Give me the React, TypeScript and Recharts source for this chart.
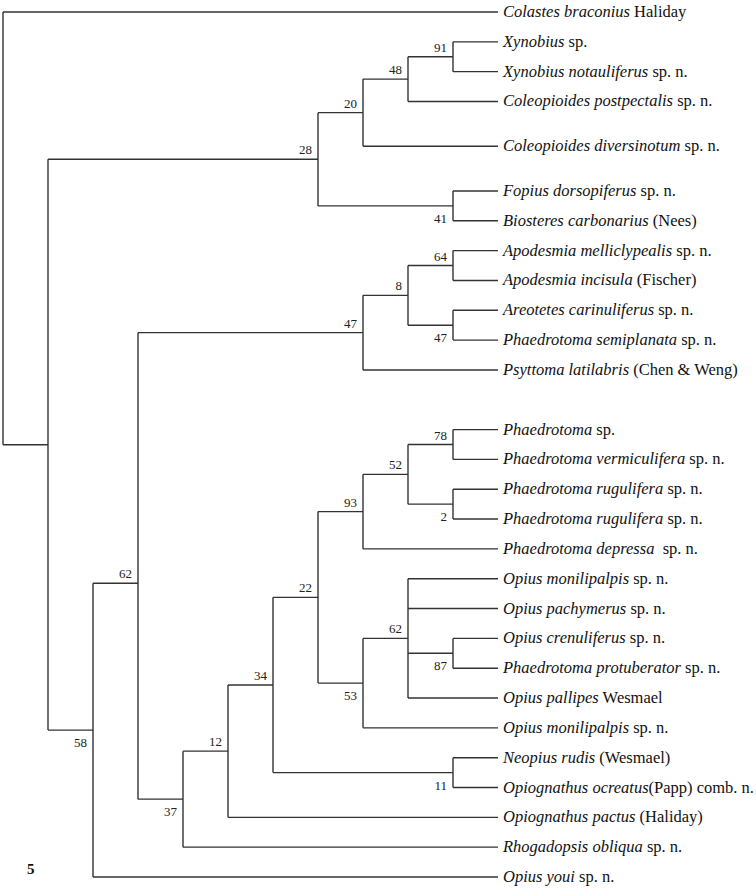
import { ScatterChart, Scatter, XAxis, YAxis, ReferenceLine } from "recharts";

// leaves, top to bottom
const leafIds = [
  "colastes", "xynSp", "xynNot", "colPost", "colDiv", "fopius", "biosteres",
  "apoMel", "apoInc", "areo", "phSemi", "psyttoma",
  "phSp", "phVerm", "phRug1", "phRug2", "phDep",
  "opMon1", "opPach", "opCren", "phProt", "opPall", "opMon2",
  "neopius", "opiOcr", "opiPact", "rhog", "opYoui",
];
const leafItalic = [
  "Colastes braconius", "Xynobius", "Xynobius notauliferus", "Coleopioides postpectalis",
  "Coleopioides diversinotum", "Fopius dorsopiferus", "Biosteres carbonarius",
  "Apodesmia melliclypealis", "Apodesmia incisula", "Areotetes carinuliferus",
  "Phaedrotoma semiplanata", "Psyttoma latilabris",
  "Phaedrotoma", "Phaedrotoma vermiculifera", "Phaedrotoma rugulifera",
  "Phaedrotoma rugulifera", "Phaedrotoma depressa",
  "Opius monilipalpis", "Opius pachymerus", "Opius crenuliferus",
  "Phaedrotoma protuberator", "Opius pallipes", "Opius monilipalpis",
  "Neopius rudis", "Opiognathus ocreatus", "Opiognathus pactus",
  "Rhogadopsis obliqua", "Opius youi",
];
const leafAuthor = [
  " Haliday", " sp.", " sp. n.", " sp. n.", " sp. n.", " sp. n.", " (Nees)",
  " sp. n.", " (Fischer)", " sp. n.", " sp. n.", " (Chen & Weng)",
  " sp.", " sp. n.", " sp. n.", " sp. n.", "  sp. n.",
  " sp. n.", " sp. n.", " sp. n.", " sp. n.", " Wesmael", " sp. n.",
  " (Wesmael)", "(Papp) comb. n.", " (Haliday)", " sp. n.", " sp. n.",
];
const leafRows = [
  0, 1, 2, 3, 4.5, 6, 7,
  8, 9, 10, 11, 12,
  14, 15, 16, 17, 18,
  19, 20, 21, 22, 23, 24,
  25, 26, 27, 28, 29,
];
const leafDepth = 11;

// internal nodes
const nodeIds = [
  "root", "n1", "n28", "n20", "n48", "n91", "n41",
  "n58", "n62a", "n47a", "n8", "n64", "n47b",
  "n37", "n12", "n34", "n22", "n93", "n52", "n78", "n2",
  "n53", "n62b", "n87", "n11",
];
const nodeDepth = [0, 1, 7, 8, 9, 10, 10, 2, 3, 8, 9, 10, 10, 4, 5, 6, 7, 8, 9, 10, 10, 8, 9, 10, 10];
const nodeChildren = [
  ["colastes", "n1"],
  ["n28", "n58"],
  ["n20", "n41"],
  ["n48", "colDiv"],
  ["n91", "colPost"],
  ["xynSp", "xynNot"],
  ["fopius", "biosteres"],
  ["n62a", "opYoui"],
  ["n47a", "n37"],
  ["n8", "psyttoma"],
  ["n64", "n47b"],
  ["apoMel", "apoInc"],
  ["areo", "phSemi"],
  ["n12", "rhog"],
  ["n34", "opiPact"],
  ["n22", "n11"],
  ["n93", "n53"],
  ["n52", "phDep"],
  ["n78", "n2"],
  ["phSp", "phVerm"],
  ["phRug1", "phRug2"],
  ["n62b", "opMon2"],
  ["opMon1", "opPach", "n87", "opPall"],
  ["opCren", "phProt"],
  ["neopius", "opiOcr"],
];
const nodeSupport = [null, null, 28, 20, 48, 91, 41, 58, 62, 47, 8, 64, 47, 37, 12, 34, 22, 93, 52, 78, 2, 53, 62, 87, 11];
const supportBelow = ["n41", "n47b", "n2", "n87", "n53", "n11", "n58", "n37"];
// node drawn off the midpoint of its children in the original
const nodeRowOverride: Record<string, number> = { n62a: 19.15 };

const serif = "'Liberation Serif', 'Times New Roman', serif";
const ink = "#333";

const rowOf = (id: string): number => {
  const li = leafIds.indexOf(id);
  if (li >= 0) return leafRows[li];
  if (nodeRowOverride[id] !== undefined) return nodeRowOverride[id];
  const ys = nodeChildren[nodeIds.indexOf(id)].map(rowOf);
  return (Math.min(...ys) + Math.max(...ys)) / 2;
};
const depthOf = (id: string): number => {
  const ni = nodeIds.indexOf(id);
  return ni >= 0 ? nodeDepth[ni] : leafDepth;
};

const segments: { x: number; y: number }[][] = [];
nodeIds.forEach((id, i) => {
  const d = nodeDepth[i];
  const ys = nodeChildren[i].map(rowOf);
  segments.push([{ x: d, y: Math.min(...ys) }, { x: d, y: Math.max(...ys) }]);
  nodeChildren[i].forEach((c) => {
    const cy = rowOf(c);
    segments.push([{ x: d, y: cy }, { x: depthOf(c), y: cy }]);
  });
});

const leafData = leafIds.map((id, i) => ({
  x: leafDepth,
  y: leafRows[i],
  italic: leafItalic[i],
  author: leafAuthor[i],
}));

const supportData = nodeIds
  .map((id, i) => ({
    x: nodeDepth[i],
    y: rowOf(id),
    label: nodeSupport[i],
    below: supportBelow.includes(id),
  }))
  .filter((d) => d.label !== null);

const LeafLabel = (props: any) => {
  const { cx, cy, payload } = props;
  return (
    <text
      x={cx + 5}
      y={cy + 5}
      fontFamily={serif}
      fontSize={16.5}
      fill="#111"
      style={{ whiteSpace: "pre" }}
    >
      <tspan fontStyle="italic">{payload.italic}</tspan>
      <tspan>{payload.author}</tspan>
    </text>
  );
};

const SupportLabel = (props: any) => {
  const { cx, cy, payload } = props;
  return (
    <text
      x={cx - 6}
      y={payload.below ? cy + 17 : cy - 5}
      textAnchor="end"
      fontFamily={serif}
      fontSize={13}
      fill="#222"
    >
      {payload.label}
    </text>
  );
};

export default function App() {
  return (
    <div style={{ position: "absolute", left: 0, top: 0, width: 756, height: 888, background: "#fff" }}>
      <ScatterChart
        width={756}
        height={888}
        margin={{ top: 12, left: 3, right: 258, bottom: 11 }}
      >
        <XAxis type="number" dataKey="x" domain={[0, 11]} hide />
        <YAxis type="number" dataKey="y" domain={[0, 29]} reversed hide />
        {segments.map((s, i) => (
          <ReferenceLine
            key={i}
            segment={s}
            stroke={ink}
            strokeWidth={1.4}
            ifOverflow="visible"
          />
        ))}
        <Scatter data={leafData} shape={LeafLabel} isAnimationActive={false} />
        <Scatter data={supportData} shape={SupportLabel} isAnimationActive={false} />
      </ScatterChart>
      <div
        style={{
          position: "absolute",
          left: 27,
          top: 862,
          fontFamily: serif,
          fontWeight: "bold",
          fontSize: 15,
          lineHeight: "15px",
          color: "#111",
        }}
      >
        5
      </div>
    </div>
  );
}
